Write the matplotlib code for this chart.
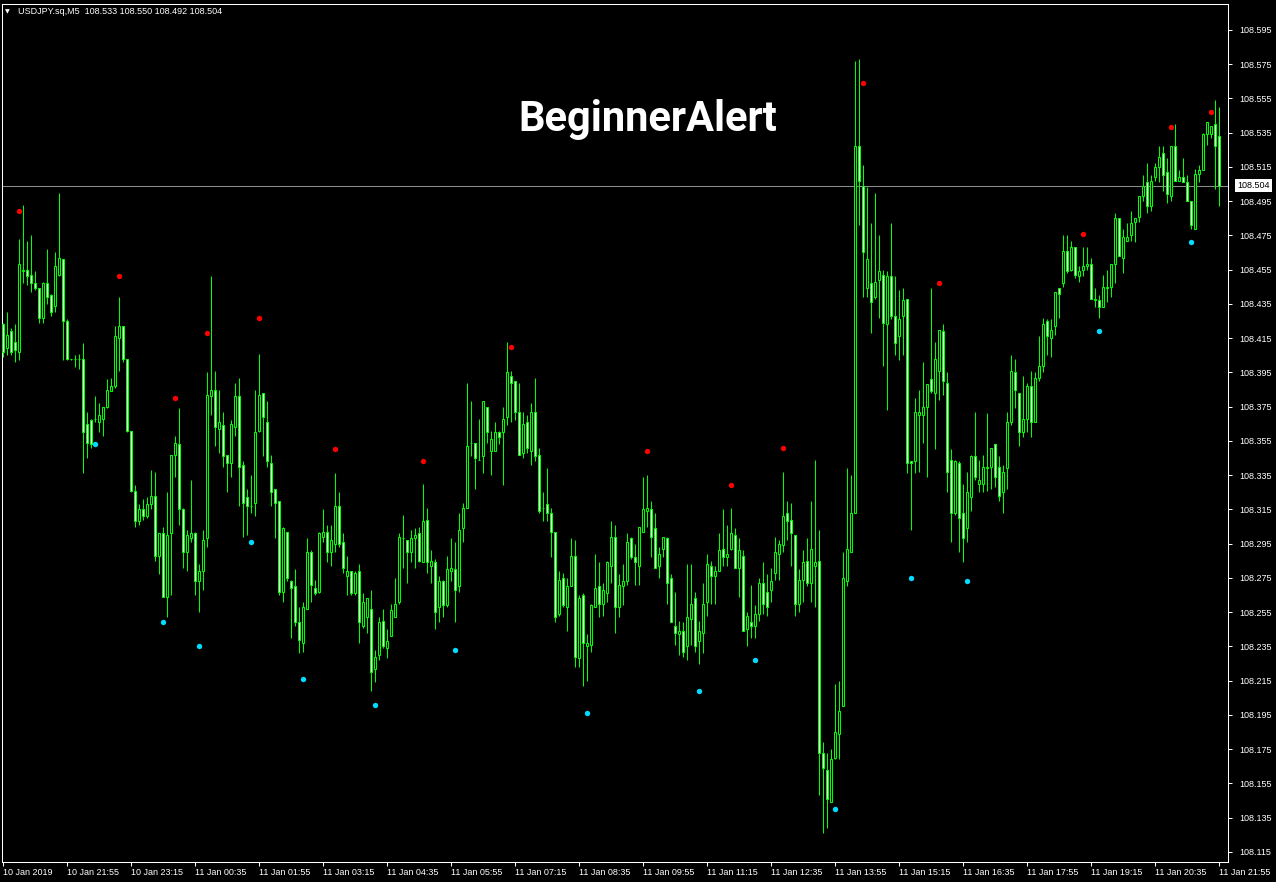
import numpy as np
import matplotlib.pyplot as plt

# USDJPY.sq M5 candles, prices in points (0.001) above 108.000
BASE = 108.0
open_pts = [
    423, 409, 419, 413, 407, 454, 455, 452, 447, 444,
    427, 447, 440, 434, 452, 461, 425, 403, 403, 403,
    403, 365, 367, 368, 366, 368, 375, 384, 387, 415,
    422, 403, 361, 326, 308, 315, 311, 318, 323, 288,
    301, 264, 301, 347, 353, 315, 290, 298, 301, 273,
    279, 298, 381, 385, 362, 364, 347, 342, 363, 381,
    341, 322, 317, 319, 361, 383, 366, 342, 327, 320,
    267, 302, 273, 270, 249, 237, 257, 290, 269, 267,
    299, 302, 290, 295, 317, 296, 276, 279, 266, 279,
    247, 252, 257, 222, 230, 250, 234, 241, 252, 261,
    298, 297, 290, 298, 301, 284, 309, 282, 284, 258,
    273, 259, 279, 280, 270, 304, 316, 354, 354, 344,
    346, 375, 349, 349, 360, 360, 369, 393, 390, 372,
    348, 366, 349, 372, 347, 316, 318, 313, 302, 254,
    275, 258, 270, 288, 228, 265, 235, 236, 258, 270,
    260, 266, 282, 299, 258, 270, 273, 298, 287, 282,
    302, 314, 315, 304, 282, 292, 298, 275, 247, 242,
    244, 235, 251, 263, 238, 243, 261, 282, 276, 279,
    292, 287, 292, 300, 281, 288, 245, 249, 247, 254,
    272, 267, 268, 278, 289, 294, 313, 309, 300, 260,
    274, 285, 272, 282, 285, 173, 163, 144, 170, 184,
    200, 273, 290, 313, 527, 504, 444, 447, 439, 449,
    452, 423, 451, 428, 416, 428, 438, 343, 343, 370,
    370, 375, 391, 383, 396, 419, 389, 344, 313, 342,
    313, 304, 322, 346, 330, 330, 339, 340, 353, 340,
    325, 339, 366, 395, 383, 360, 368, 387, 366, 392,
    399, 425, 415, 422, 444, 447, 466, 455, 468, 451,
    455, 457, 458, 437, 437, 433, 444, 445, 458, 485,
    462, 472, 475, 483, 486, 498, 506, 492, 509, 515,
    523, 512, 498, 527, 507, 509, 506, 495, 479, 511,
    513, 534, 534, 540, 533,
]
high_pts = [
    424, 430, 421, 423, 473, 493, 472, 475, 454, 444,
    448, 467, 441, 465, 500, 461, 426, 403, 405, 406,
    412, 372, 368, 381, 377, 375, 391, 392, 422, 439,
    422, 403, 361, 329, 318, 321, 322, 338, 337, 301,
    305, 325, 347, 358, 374, 316, 303, 332, 302, 283,
    303, 395, 451, 396, 385, 372, 347, 367, 389, 392,
    343, 327, 335, 385, 406, 383, 378, 347, 327, 320,
    305, 302, 274, 280, 258, 261, 298, 291, 274, 302,
    315, 306, 306, 336, 325, 301, 288, 279, 279, 283,
    266, 263, 268, 233, 252, 257, 245, 260, 275, 301,
    312, 297, 303, 304, 305, 330, 316, 291, 286, 276,
    274, 288, 298, 296, 313, 319, 389, 378, 354, 368,
    378, 375, 361, 366, 361, 375, 413, 396, 390, 389,
    372, 370, 377, 392, 351, 325, 339, 316, 302, 279,
    278, 275, 298, 297, 265, 266, 242, 260, 289, 284,
    272, 285, 308, 306, 277, 283, 301, 299, 295, 305,
    334, 335, 320, 313, 293, 299, 299, 277, 267, 250,
    249, 283, 283, 267, 250, 272, 289, 285, 282, 301,
    315, 306, 316, 304, 298, 291, 255, 271, 259, 275,
    284, 277, 281, 299, 297, 337, 320, 319, 300, 280,
    291, 298, 320, 344, 303, 179, 173, 175, 213, 215,
    290, 339, 335, 577, 578, 516, 503, 482, 500, 475,
    455, 454, 482, 451, 443, 444, 438, 343, 380, 385,
    401, 388, 444, 413, 420, 423, 395, 350, 344, 343,
    330, 337, 347, 372, 344, 347, 371, 351, 353, 346,
    341, 372, 405, 403, 383, 393, 389, 396, 395, 416,
    427, 426, 426, 442, 444, 475, 475, 472, 468, 457,
    468, 468, 462, 444, 440, 452, 455, 458, 488, 485,
    479, 482, 489, 485, 498, 510, 517, 510, 517, 527,
    527, 520, 527, 540, 513, 520, 510, 495, 514, 516,
    535, 541, 539, 554, 550,
]
low_pts = [
    404, 405, 405, 401, 402, 447, 446, 442, 443, 424,
    424, 435, 428, 430, 451, 402, 402, 402, 398, 397,
    336, 345, 351, 366, 360, 358, 374, 384, 386, 396,
    401, 360, 325, 305, 306, 309, 310, 315, 285, 277,
    264, 252, 265, 334, 306, 281, 279, 296, 265, 255,
    268, 293, 370, 352, 348, 340, 325, 334, 358, 317,
    299, 300, 313, 311, 360, 346, 340, 317, 298, 265,
    261, 273, 240, 247, 231, 232, 257, 261, 265, 266,
    296, 284, 282, 290, 293, 278, 265, 265, 265, 237,
    246, 243, 209, 214, 227, 234, 228, 241, 252, 260,
    281, 272, 284, 281, 284, 284, 278, 272, 245, 249,
    252, 258, 273, 249, 267, 296, 316, 346, 327, 344,
    336, 354, 335, 349, 353, 329, 364, 366, 367, 347,
    345, 348, 341, 343, 313, 308, 308, 287, 249, 253,
    258, 244, 270, 223, 223, 212, 215, 232, 258, 252,
    253, 261, 272, 243, 252, 259, 271, 286, 271, 271,
    302, 305, 287, 281, 275, 287, 260, 249, 236, 230,
    229, 227, 236, 232, 225, 231, 253, 260, 260, 279,
    282, 282, 291, 281, 264, 244, 235, 240, 240, 250,
    254, 253, 261, 274, 274, 290, 297, 282, 253, 255,
    261, 270, 261, 258, 148, 126, 129, 144, 169, 169,
    200, 270, 290, 313, 481, 439, 439, 418, 438, 427,
    399, 373, 426, 405, 402, 405, 336, 303, 336, 337,
    354, 334, 383, 350, 379, 382, 325, 296, 312, 290,
    284, 296, 314, 332, 325, 325, 326, 327, 328, 320,
    313, 327, 364, 374, 352, 357, 360, 357, 366, 390,
    395, 405, 404, 417, 427, 445, 453, 454, 450, 448,
    451, 455, 438, 433, 427, 433, 436, 439, 447, 463,
    453, 472, 472, 471, 483, 495, 488, 489, 507, 506,
    501, 494, 495, 507, 507, 506, 495, 479, 479, 506,
    513, 528, 532, 502, 492,
]
close_pts = [
    407, 417, 407, 408, 458, 455, 451, 447, 444, 427,
    447, 439, 430, 457, 462, 425, 403, 403, 403, 403,
    360, 354, 353, 368, 370, 375, 385, 387, 416, 422,
    403, 361, 326, 308, 315, 311, 318, 323, 288, 301,
    264, 300, 347, 354, 315, 290, 300, 301, 273, 279,
    297, 382, 385, 363, 366, 346, 342, 365, 381, 340,
    319, 317, 317, 360, 382, 369, 343, 325, 319, 267,
    304, 275, 269, 249, 239, 258, 290, 271, 266, 301,
    302, 290, 297, 317, 295, 281, 279, 266, 278, 249,
    261, 263, 220, 229, 249, 235, 238, 256, 260, 299,
    298, 290, 298, 300, 285, 308, 284, 285, 255, 273,
    259, 280, 281, 268, 303, 316, 352, 354, 345, 344,
    378, 360, 356, 360, 357, 368, 395, 389, 372, 347,
    365, 351, 372, 346, 314, 316, 313, 302, 252, 274,
    259, 270, 288, 229, 263, 237, 237, 259, 269, 260,
    268, 284, 299, 258, 271, 273, 296, 287, 284, 305,
    315, 316, 299, 281, 289, 299, 272, 249, 243, 244,
    232, 252, 260, 235, 244, 260, 283, 276, 279, 291,
    287, 289, 301, 281, 291, 244, 253, 247, 254, 272,
    260, 258, 273, 290, 295, 311, 308, 301, 260, 274,
    284, 272, 292, 284, 173, 164, 146, 169, 185, 197,
    275, 292, 313, 527, 507, 465, 461, 436, 448, 454,
    424, 451, 428, 412, 426, 437, 342, 342, 372, 372,
    375, 388, 384, 403, 420, 390, 337, 313, 343, 310,
    298, 325, 346, 334, 332, 340, 340, 351, 334, 323,
    337, 366, 396, 385, 360, 368, 387, 366, 392, 399,
    423, 416, 420, 442, 441, 466, 454, 468, 452, 454,
    457, 458, 438, 438, 433, 445, 445, 458, 485, 463,
    474, 474, 482, 485, 498, 504, 492, 507, 515, 521,
    510, 499, 527, 507, 509, 506, 495, 481, 511, 513,
    534, 541, 539, 527, 504,
]

time_labels = ['10 Jan 2019', '10 Jan 21:55', '10 Jan 23:15', '11 Jan 00:35',
               '11 Jan 01:55', '11 Jan 03:15', '11 Jan 04:35', '11 Jan 05:55',
               '11 Jan 07:15', '11 Jan 08:35', '11 Jan 09:55', '11 Jan 11:15',
               '11 Jan 12:35', '11 Jan 13:55', '11 Jan 15:15', '11 Jan 16:35',
               '11 Jan 17:55', '11 Jan 19:15', '11 Jan 20:35', '11 Jan 21:55']
bars_per_label = 16

# alert dots (bar index, price)
sell_idx = [4, 29, 43, 51, 64, 83, 105, 127, 161, 182, 195, 215, 234, 270, 292, 302]
sell_price = [108.489, 108.451, 108.380, 108.418, 108.427, 108.350, 108.343, 108.410,
              108.349, 108.329, 108.351, 108.564, 108.447, 108.476, 108.538, 108.547]
buy_idx = [23, 40, 49, 62, 75, 93, 113, 146, 174, 188, 208, 227, 241, 274, 297]
buy_price = [108.353, 108.249, 108.235, 108.296, 108.216, 108.201, 108.233, 108.196,
             108.209, 108.227, 108.140, 108.275, 108.273, 108.419, 108.471]

symbol = 'USDJPY.sq,M5'
bid = 108.504

opens = BASE + np.array(open_pts) / 1000
highs = BASE + np.array(high_pts) / 1000
lows = BASE + np.array(low_pts) / 1000
closes = BASE + np.array(close_pts) / 1000
x = np.arange(len(opens))

LIME = '#00ff00'
W, H = 1276, 882
fig = plt.figure(figsize=(W / 100, H / 100), dpi=100, facecolor='black')
ax = fig.add_axes([2 / W, 20 / H, 1226 / W, 858 / H])
ax.set_facecolor('black')

# wicks then bodies (bull = black body, bear = white body)
ax.vlines(x, lows, highs, color=LIME, lw=0.75, zorder=2)
up = closes >= opens
ax.bar(x, np.abs(closes - opens), bottom=np.minimum(opens, closes), width=0.5,
       color=np.where(up, 'black', 'white'), edgecolor=LIME, linewidth=0.75, zorder=3)

ax.scatter(sell_idx, sell_price, s=15, color='#ff0000', zorder=4, linewidths=0)
ax.scatter(buy_idx, buy_price, s=15, color='#00dcff', zorder=4, linewidths=0)

ax.axhline(bid, color='#8c8c8c', lw=0.75, zorder=1)

ax.set_xlim(-0.325, 306.175)
ax.set_ylim(108.1091, 108.6101)

for s in ax.spines.values():
    s.set_color('white')
    s.set_linewidth(0.75)

yt = np.round(108.115 + 0.02 * np.arange(25), 3)
ax.yaxis.tick_right()
ax.set_yticks(yt)
ax.set_yticklabels(['%.3f' % v for v in yt])
ax.set_xticks(x[::bars_per_label])
ax.set_xticklabels(time_labels)
for lbl in ax.get_xticklabels():
    lbl.set_ha('left')
ax.tick_params(colors='white', labelcolor='white', length=3, width=0.75,
               labelsize=6.5, direction='out')
ax.tick_params(axis='x', pad=1.5)
ax.tick_params(axis='y', pad=5)
for lbl in ax.get_xticklabels() + ax.get_yticklabels():
    lbl.set_fontfamily('Liberation Sans')

ax.text(1.0075, bid, '%.3f' % bid, transform=ax.get_yaxis_transform(),
        color='black', fontsize=6.5, family='Liberation Sans', va='center', ha='left',
        bbox=dict(boxstyle='square,pad=0.25', facecolor='white', edgecolor='none'))

# header line and title
fig.text(5 / W, 1 - 12 / H, '▼', color='white', fontsize=4.5, va='center')
fig.text(18 / W, 1 - 12 / H,
         '%s  %.3f %.3f %.3f %.3f' % (symbol, opens[-1], highs[-1], lows[-1], closes[-1]),
         color='white', fontsize=6.5, family='Liberation Sans', va='center')
fig.text(648 / W, 1 - 131 / H, 'BeginnerAlert', color='white', fontsize=30,
         family='Roboto', weight='bold', ha='center', va='baseline')

fig.savefig('out.png', dpi=100, facecolor='black')
